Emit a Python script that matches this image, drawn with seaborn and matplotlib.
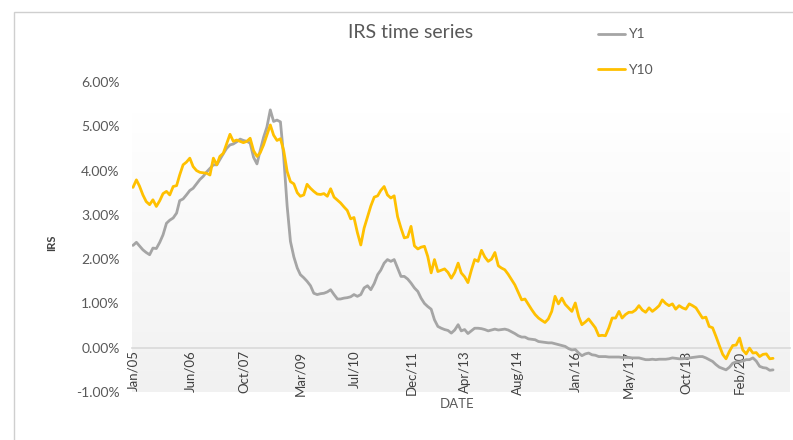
import numpy as np
import pandas as pd
import matplotlib
matplotlib.use("Agg")
import matplotlib.pyplot as plt
import matplotlib.transforms as mtransforms
from matplotlib.patches import Rectangle
from matplotlib.ticker import PercentFormatter
import seaborn as sns

# monthly IRS swap rates in %, Jan 2005 - Dec 2020
dates = pd.date_range("2005-01-01", periods=192, freq="MS")

y1 = [
    2.31, 2.38, 2.30, 2.21, 2.15, 2.10, 2.25, 2.24, 2.38, 2.55, 2.81, 2.88,
    2.93, 3.04, 3.32, 3.36, 3.45, 3.55, 3.60, 3.70, 3.80, 3.87, 3.97, 4.05,
    4.13, 4.13, 4.25, 4.38, 4.50, 4.58, 4.60, 4.65, 4.71, 4.68, 4.66, 4.62,
    4.30, 4.15, 4.45, 4.75, 4.98, 5.37, 5.11, 5.14, 5.10, 4.30, 3.20, 2.40,
    2.05, 1.80, 1.65, 1.58, 1.50, 1.40, 1.23, 1.20, 1.22, 1.23, 1.26, 1.31,
    1.20, 1.10, 1.10, 1.12, 1.13, 1.15, 1.20, 1.16, 1.20, 1.35, 1.40, 1.31,
    1.45, 1.65, 1.75, 1.91, 1.99, 1.95, 1.99, 1.80, 1.61, 1.61, 1.55, 1.46,
    1.35, 1.27, 1.12, 1.00, 0.93, 0.87, 0.63, 0.48, 0.44, 0.41, 0.39, 0.33,
    0.40, 0.52, 0.38, 0.41, 0.32, 0.38, 0.44, 0.44, 0.43, 0.41, 0.38, 0.40,
    0.42, 0.40, 0.41, 0.42, 0.40, 0.36, 0.32, 0.27, 0.24, 0.24, 0.20, 0.19,
    0.18, 0.14, 0.13, 0.12, 0.11, 0.11, 0.09, 0.07, 0.05, 0.03, -0.02, -0.05,
    -0.04, -0.12, -0.18, -0.14, -0.12, -0.16, -0.17, -0.20, -0.20, -0.20, -0.21, -0.21,
    -0.21, -0.21, -0.22, -0.22, -0.22, -0.23, -0.23, -0.23, -0.25, -0.27, -0.27, -0.26,
    -0.27, -0.26, -0.26, -0.26, -0.25, -0.23, -0.24, -0.25, -0.25, -0.24, -0.23, -0.22,
    -0.21, -0.20, -0.20, -0.23, -0.27, -0.31, -0.38, -0.44, -0.47, -0.50, -0.44, -0.35,
    -0.32, -0.32, -0.30, -0.27, -0.27, -0.23, -0.30, -0.42, -0.45, -0.46, -0.51, -0.50,
]

y10 = [
    3.62, 3.79, 3.65, 3.45, 3.30, 3.23, 3.34, 3.19, 3.32, 3.48, 3.53, 3.45,
    3.64, 3.66, 3.90, 4.13, 4.19, 4.28, 4.09, 4.00, 3.96, 3.95, 3.94, 3.90,
    4.28, 4.13, 4.32, 4.39, 4.60, 4.82, 4.66, 4.69, 4.66, 4.63, 4.66, 4.73,
    4.45, 4.32, 4.40, 4.58, 4.80, 5.03, 4.80, 4.68, 4.72, 4.45, 3.98, 3.75,
    3.70, 3.50, 3.42, 3.45, 3.69, 3.60, 3.53, 3.47, 3.46, 3.48, 3.42, 3.59,
    3.40, 3.33, 3.27, 3.18, 3.10, 2.91, 2.94, 2.60, 2.32, 2.70, 2.95, 3.20,
    3.40, 3.43, 3.55, 3.64, 3.45, 3.38, 3.43, 2.96, 2.70, 2.48, 2.50, 2.74,
    2.30, 2.23, 2.27, 2.29, 2.06, 1.69, 1.99, 1.72, 1.75, 1.78, 1.70, 1.57,
    1.70, 1.91, 1.69, 1.60, 1.47, 1.75, 1.99, 1.95, 2.20, 2.05, 1.95, 2.00,
    2.15, 1.85, 1.80, 1.76, 1.66, 1.54, 1.42, 1.25, 1.08, 1.10, 0.98, 0.86,
    0.75, 0.67, 0.62, 0.57, 0.65, 0.82, 1.16, 0.99, 1.12, 0.98, 0.90, 0.82,
    1.01, 0.70, 0.52, 0.58, 0.65, 0.55, 0.45, 0.27, 0.28, 0.27, 0.45, 0.67,
    0.67, 0.82, 0.67, 0.75, 0.80, 0.80, 0.85, 0.95, 0.85, 0.80, 0.90, 0.82,
    0.88, 0.95, 1.08, 1.00, 0.95, 0.99, 0.87, 0.95, 0.90, 0.87, 0.99, 0.95,
    0.90, 0.78, 0.67, 0.69, 0.48, 0.45, 0.26, 0.05, -0.15, -0.25, -0.08, 0.05,
    0.06, 0.22, -0.05, -0.14, -0.01, -0.12, -0.11, -0.20, -0.15, -0.14, -0.25, -0.24,
]

tick_dates = pd.to_datetime([
    "2005-01-01", "2006-06-01", "2007-10-01", "2009-03-01", "2010-07-01", "2011-12-01",
    "2013-04-01", "2014-08-01", "2016-01-01", "2017-05-01", "2018-10-01", "2020-02-01",
])
tick_labels = ["Jan/05", "Jun/06", "Oct/07", "Mar/09", "Jul/10", "Dec/11",
               "Apr/13", "Aug/14", "Jan/16", "May/17", "Oct/18", "Feb/20"]

df = pd.DataFrame({"DATE": dates, "Y1": y1, "Y10": y10})
long_df = df.melt(id_vars="DATE", var_name="series", value_name="IRS")

sns.set_theme(style="white")
plt.rcParams["font.family"] = ["Lato", "DejaVu Sans"]
plt.rcParams["axes.unicode_minus"] = False

grey_txt = "#595959"
fig = plt.figure(figsize=(7.93, 4.40), dpi=100)
ax = fig.add_axes([132 / 793, 48 / 440, 658 / 793, 310 / 440])

# plot-area gradient fill
grad = np.linspace(0, 1, 256).reshape(-1, 1)
cmap = matplotlib.colors.LinearSegmentedColormap.from_list("bg", ["#f1f1f1", "#ffffff"])
trans = mtransforms.blended_transform_factory(ax.transAxes, ax.transData)
ax.imshow(grad, cmap=cmap, origin="lower", aspect="auto",
          extent=[0, 1, -1, 5.3], transform=trans, zorder=0)

sns.lineplot(data=long_df, x="DATE", y="IRS", hue="series",
             palette={"Y1": "#a5a5a5", "Y10": "#ffc000"},
             linewidth=2.0, ax=ax, zorder=3)

ax.set_ylim(-1, 6)
ax.set_xlim(pd.Timestamp("2004-12-23"), pd.Timestamp("2021-05-04"))
ax.yaxis.set_major_formatter(PercentFormatter(xmax=100, decimals=2))
ax.set_yticks(range(-1, 7))

for side in ["top", "right", "left"]:
    ax.spines[side].set_visible(False)
ax.spines["bottom"].set_position(("data", 0))
ax.spines["bottom"].set_color("#d9d9d9")
ax.spines["bottom"].set_linewidth(1.2)
ax.spines["bottom"].set_zorder(2)

ax.set_xticks(tick_dates)
ax.set_xticklabels(tick_labels, rotation=90, color="#404040", fontsize=9.5)
ax.tick_params(axis="x", length=0, pad=2)
ax.tick_params(axis="y", length=0, pad=9, labelcolor=grey_txt, labelsize=10)

ax.set_xlabel("DATE", color=grey_txt, fontsize=9.5)
ax.xaxis.set_label_coords((457 - 132) / 658, -(398 - 392) / 310)
ax.set_ylabel("IRS", color="#404040", fontsize=8, fontweight="bold")
ax.yaxis.set_label_coords(-(132 - 57) / 658, (392 - 243) / 310)

fig.text(411 / 793, 1 - 33 / 440, "IRS time series", ha="center", va="center",
         fontsize=14, color=grey_txt)

handles, labels = ax.get_legend_handles_labels()
ax.legend(handles, labels, loc="upper left", bbox_to_anchor=(585 / 793, 1 - 16 / 440),
          bbox_transform=fig.transFigure, frameon=False, handlelength=2.0,
          handletextpad=0.2, labelspacing=1.7, fontsize=10, labelcolor=grey_txt)

fig.patches.append(Rectangle((14 / 793, -0.1), 1.0, 1.1 - 12 / 440, fill=False,
                             edgecolor="#cfcfcf", linewidth=1.0,
                             transform=fig.transFigure, figure=fig))

fig.savefig("out.png", dpi=100)
